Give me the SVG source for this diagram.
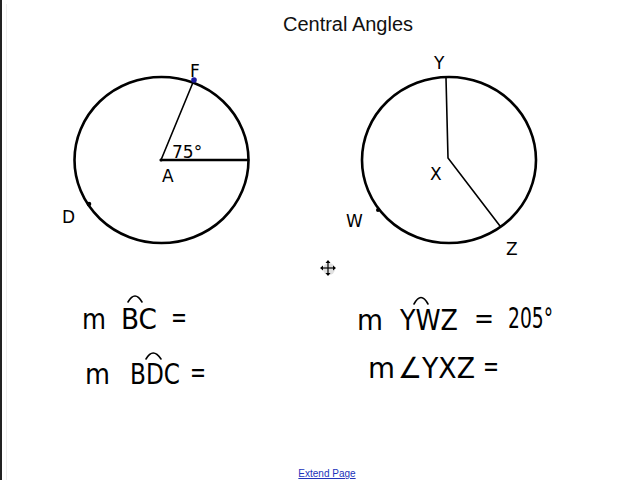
<svg xmlns="http://www.w3.org/2000/svg" width="640" height="480" viewBox="0 0 640 480">
<style>
.ink{fill:none;stroke:#000;stroke-width:2.6;stroke-linecap:round}
.thin{fill:none;stroke:#000;stroke-width:1.6;stroke-linecap:round}
.hw{font-family:"DejaVu Sans","Liberation Sans",sans-serif;fill:#000;font-size:29px}
.lbl{font-family:"DejaVu Sans","Liberation Sans",sans-serif;fill:#000;font-size:17px}
</style>
<rect width="640" height="480" fill="#fff"/>
<rect x="0" y="0" width="2" height="480" fill="#222"/>
<line x1="6.5" y1="4" x2="6.5" y2="480" stroke="#eee" stroke-width="1"/>
<text x="348" y="31" text-anchor="middle" font-family="Liberation Sans, Arial, sans-serif" font-size="20" fill="#111">Central Angles</text>

<g id="circleA">
<ellipse cx="161.5" cy="160" rx="87" ry="83" class="ink"/>
<line x1="161" y1="160" x2="194" y2="80" class="thin"/>
<line x1="161" y1="160" x2="248" y2="160" class="ink"/>
<circle cx="194" cy="80" r="2.8" fill="#1a1aa0"/>
<circle cx="89" cy="204" r="2.3" fill="#000"/>
<circle cx="161" cy="160" r="1.5" fill="#000"/>
<text x="190" y="77" class="lbl" font-size="14">F</text>
<text x="172" y="158" class="lbl" font-size="15">75°</text>
<text x="162" y="182" class="lbl" font-size="12">A</text>
<text x="62" y="223" class="lbl" font-size="19">D</text>
</g>

<g id="circleX">
<ellipse cx="449" cy="160" rx="87" ry="83" class="ink"/>
<polyline points="446,78 448,158 500,226" class="thin"/>
<circle cx="378" cy="210" r="2" fill="#000"/>
<text x="434" y="69" class="lbl" font-size="18">Y</text>
<text x="430" y="180" class="lbl" font-size="20">X</text>
<text x="346" y="227" class="lbl" font-size="17">W</text>
<text x="506" y="255" class="lbl" font-size="21">Z</text>
</g>

<g id="equations">
<text x="82" y="329" class="hw" textLength="24" lengthAdjust="spacingAndGlyphs">m</text>
<text x="121" y="329" class="hw" textLength="36" lengthAdjust="spacingAndGlyphs">BC</text>
<path d="M128 302 Q135 290 142 302" class="thin"/>
<text x="171" y="327" class="hw" textLength="16" lengthAdjust="spacingAndGlyphs">=</text>

<text x="85" y="384" class="hw" textLength="25" lengthAdjust="spacingAndGlyphs">m</text>
<text x="130" y="384" class="hw" font-size="26" textLength="50" lengthAdjust="spacingAndGlyphs">BDC</text>
<path d="M146 359 Q153 347 161 359" class="thin"/>
<text x="190" y="382" class="hw" textLength="16" lengthAdjust="spacingAndGlyphs">=</text>

<text x="357" y="330" class="hw" textLength="26" lengthAdjust="spacingAndGlyphs">m</text>
<text x="400" y="330" class="hw" textLength="58" lengthAdjust="spacingAndGlyphs">YWZ</text>
<path d="M414 304 Q421 291 428 304" class="thin"/>
<text x="474" y="328" class="hw" textLength="20" lengthAdjust="spacingAndGlyphs">=</text>
<text x="508" y="328" class="hw" textLength="45" lengthAdjust="spacingAndGlyphs">205°</text>

<text x="368" y="378" class="hw" textLength="27" lengthAdjust="spacingAndGlyphs">m</text>
<text x="398" y="378" class="hw" font-size="26" textLength="77" lengthAdjust="spacingAndGlyphs">∠YXZ</text>
<text x="483" y="376" class="hw" textLength="16" lengthAdjust="spacingAndGlyphs">=</text>
</g>

<g id="cursor" stroke="#000" stroke-width="1.2" fill="#000">
<circle cx="329" cy="269" r="6" fill="#ccc" stroke="none" opacity="0.6"/>
<line x1="328" y1="261" x2="328" y2="275"/>
<line x1="321" y1="268" x2="335" y2="268"/>
<path d="M328 260 l-2.5 3 h5z M328 276 l-2.5 -3 h5z M320 268 l3 -2.5 v5z M336 268 l-3 -2.5 v5z" stroke="none"/>
</g>

<text x="327" y="477" text-anchor="middle" font-family="Liberation Sans, Arial, sans-serif" font-size="10" fill="#2233bb" text-decoration="underline">Extend Page</text>
</svg>
